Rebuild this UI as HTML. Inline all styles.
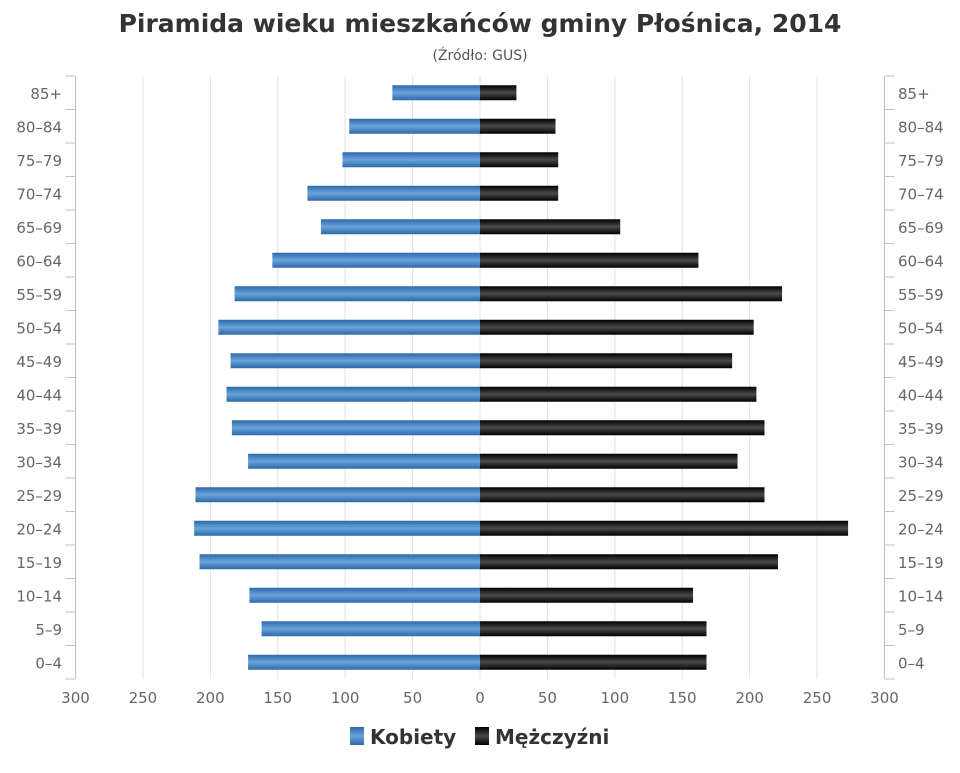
<!DOCTYPE html>
<html><head><meta charset="utf-8"><style>
body{margin:0;background:#fff;width:960px;height:768px;overflow:hidden;font-family:"Liberation Sans",sans-serif}
</style></head><body>
<svg id="chart" width="960" height="768" xmlns="http://www.w3.org/2000/svg">
<defs>
<linearGradient id="gb" x1="0" y1="0" x2="0" y2="1"><stop offset="0" stop-color="#2d69a8"/><stop offset="0.5" stop-color="#6aa3dc"/><stop offset="1" stop-color="#2d69a8"/></linearGradient>
<linearGradient id="gk" x1="0" y1="0" x2="0" y2="1"><stop offset="0" stop-color="#000"/><stop offset="0.5" stop-color="#4a4a4a"/><stop offset="1" stop-color="#000"/></linearGradient>
</defs>
<text x="480" y="32" text-anchor="middle" font-size="25" font-weight="bold" fill="#333" font-family="DejaVu Sans, sans-serif">Piramida wieku mieszkańców gminy Płośnica, 2014</text>
<text x="480" y="60" text-anchor="middle" font-size="14" fill="#555" font-family="DejaVu Sans, sans-serif">(Źródło: GUS)</text>
<g id="grid"></g><g id="bars"></g><g id="labels"></g>
<g>
<g><rect x="350" y="727" width="14" height="18" fill="url(#gb)"/><text x="370" y="744" font-size="20" font-weight="bold" fill="#333" font-family="DejaVu Sans, sans-serif">Kobiety</text></g>
<g><rect x="475" y="727" width="14" height="18" fill="url(#gk)"/><text x="495" y="744" font-size="20" font-weight="bold" fill="#333" font-family="DejaVu Sans, sans-serif">Mężczyźni</text></g>
</g>
</svg>
<script>
const categories=["85+","80-84","75-79","70-74","65-69","60-64","55-59","50-54","45-49","40-44","35-39","30-34","25-29","20-24","15-19","10-14","5-9","0-4"];
const femaleValues=[65,97,102,128,118,154,182,194,185,188,184,172,211,212,208,171,162,172];
const maleValues=[27,56,58,58,104,162,224,203,187,205,211,191,211,273,221,158,168,168];
const tickValues=[300,250,200,150,100,50,0,50,100,150,200,250,300];
const NS="http://www.w3.org/2000/svg";
const cx=480,halfW=404.5,maxV=300,plotTop=76,plotBottom=679;
const rowH=(plotBottom-plotTop)/categories.length;
function xs(v){return v*halfW/maxV;}
function yc(i){return plotTop+rowH*(i+0.5);}
function mk(t,a,p){const e=document.createElementNS(NS,t);for(const k in a)e.setAttribute(k,a[k]);p.appendChild(e);return e;}
const grid=document.getElementById('grid'),bars=document.getElementById('bars'),labels=document.getElementById('labels');
tickValues.forEach((v,i)=>{
  const x=cx+(i<6?-xs(v):xs(v));
  const l=mk('line',{x1:x,x2:x,y1:plotTop,y2:plotBottom,stroke:(i==0||i==12)?'#c0c0c0':'#e0e0e0'},grid);
  
  
  const t=mk('text',{x:x,y:plotBottom+24,'text-anchor':'middle','font-size':15,fill:'#666','font-family':'DejaVu Sans, sans-serif'},labels);
  t.textContent=v;
  
  
});
for(let i=0;i<=categories.length;i++){
  const y=plotTop+rowH*i;
  mk('line',{x1:cx-halfW-10,x2:cx-halfW,y1:y,y2:y,stroke:'#c0c0c0'},grid);
  mk('line',{x1:cx+halfW,x2:cx+halfW+10,y1:y,y2:y,stroke:'#c0c0c0'},grid);
}
categories.forEach((c,i)=>{
  const y=yc(i),h=15;
  const f=mk('rect',{x:cx-xs(femaleValues[i]),y:y-h/2,width:xs(femaleValues[i]),height:h,fill:'url(#gb)'},bars);
  
  
  const m=mk('rect',{x:cx,y:y-h/2,width:xs(maleValues[i]),height:h,fill:'url(#gk)'},bars);
  
  
  const lab=c.replace('-','–');
  const a=mk('text',{x:62,y:y+6,'text-anchor':'end','font-size':15,fill:'#666','font-family':'DejaVu Sans, sans-serif'},labels);
  a.textContent=lab;
  
  
  const b=mk('text',{x:898,y:y+6,'font-size':15,fill:'#666','font-family':'DejaVu Sans, sans-serif'},labels);
  b.textContent=lab;
  
  
});
</script>
</body></html>
